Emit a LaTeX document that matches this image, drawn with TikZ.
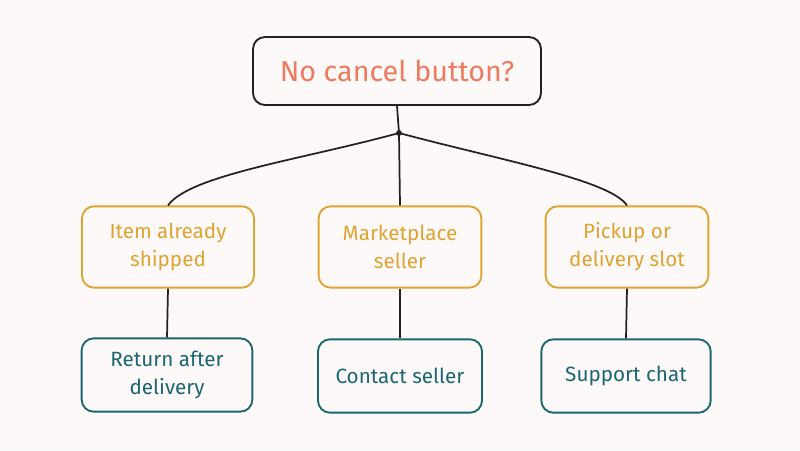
\documentclass[tikz,border=0pt]{standalone}
\usepackage{fontspec}
\setmainfont{Fira Sans}
\definecolor{bg}{HTML}{FCF9F8}
\definecolor{coral}{HTML}{EE7A60}
\definecolor{amber}{HTML}{E0A332}
\definecolor{teal}{HTML}{1B6670}
\definecolor{ink}{HTML}{222222}
\begin{document}
\begin{tikzpicture}[x=0.75pt,y=-0.75pt,
  box/.style={draw, line width=1.4pt, rounded corners=9pt, align=center, inner sep=0pt},
  topbox/.style={box, draw=ink, text=coral, font=\fontsize{21.5}{26}\selectfont, minimum width=216pt, minimum height=51pt},
  midbox/.style={box, draw=amber, text=amber, font=\fontsize{15.5}{21}\selectfont, minimum height=61pt},
  botbox/.style={box, draw=teal, text=teal, font=\fontsize{15.5}{21}\selectfont, minimum height=55pt},
  link/.style={draw=ink, line width=1.3pt}]
\fill[bg] (0,0) rectangle (800,450);
\useasboundingbox (0,0) rectangle (800,450);
\node[topbox] (top) at (397,71) {No cancel button?};
\coordinate (j) at (399,133);
\node[midbox, minimum width=129pt] (m1) at (168,247) {Item already\\shipped};
\node[midbox, minimum width=122pt] (m2) at (400,247) {Marketplace\\seller};
\node[midbox, minimum width=122pt] (m3) at (627,247) {Pickup or\\delivery slot};
\node[botbox, minimum width=128pt] (b1) at (167,375) {Return after\\delivery};
\node[botbox, minimum width=123pt] (b2) at (400,376) {Contact seller};
\node[botbox, minimum width=127pt] (b3) at (626,376) {Support chat};
\draw[link] (top.south) -- (j);
\fill[ink] (j) circle (2.2pt);
\draw[link] (j) .. controls (300,160) and (190,175) .. (m1.north);
\draw[link] (j) -- (m2.north);
\draw[link] (j) .. controls (500,160) and (610,180) .. (m3.north);
\draw[link] (m1.south) -- (b1.north);
\draw[link] (m2.south) -- (b2.north);
\draw[link] (m3.south) -- (b3.north);
\end{tikzpicture}
\end{document}
